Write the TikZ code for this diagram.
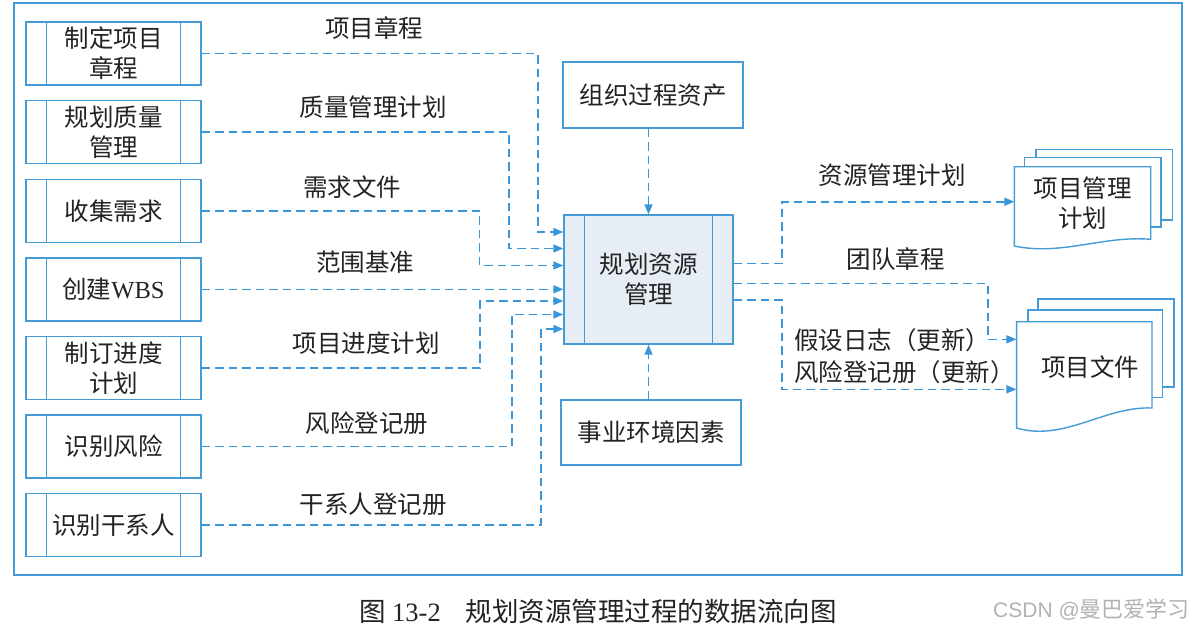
\documentclass[tikz,border=0pt]{standalone}
\usepackage{fontspec}
\setmainfont{Liberation Serif}
\newfontfamily\cjk{Noto Sans CJK SC}
\newfontfamily\wmfont{Liberation Sans}
\usetikzlibrary{arrows.meta,calc}
\definecolor{lineblue}{RGB}{58,150,218}
\definecolor{boxblue}{RGB}{68,155,214}
\definecolor{txt}{RGB}{35,35,35}
\definecolor{mfill}{RGB}{230,237,245}
\definecolor{wm}{RGB}{178,178,178}
\begin{document}
\begin{tikzpicture}[x=1pt,y=-1pt,
  every node/.style={text=txt, font=\cjk\fontsize{24.5}{30}\selectfont, inner sep=0pt},
  procbox/.style={draw=boxblue, line width=1.4pt, minimum width=175pt, minimum height=63pt, align=center},
  plainbox/.style={draw=boxblue, line width=1.4pt, minimum width=180pt, minimum height=66pt, align=center},
  flow/.style={draw=lineblue, line width=1.6pt, dash pattern=on 8.5pt off 5pt},
  arr/.style={-{Triangle[length=10pt,width=8pt,fill=lineblue]}},
  page/.style={draw=boxblue, line width=1.4pt, fill=white},
  frame/.style={minimum width=136pt, inner sep=0pt}
]
\useasboundingbox (0,0) rectangle (1194,630);
\fill[white] (0,0) rectangle (1194,630);
% outer frame
\draw[boxblue, line width=1.5pt] (14,3) rectangle (1182,575);

% left process boxes
\node[procbox] (b1) at (113.5,53.5) {制定项目\\章程};
\node[procbox] (b2) at (113.5,132.1) {规划质量\\管理};
\node[procbox] (b3) at (113.5,210.7) {收集需求};
\node[procbox] (b4) at (113.5,289.3) {创建{\rmfamily WBS}};
\node[procbox] (b5) at (113.5,367.9) {制订进度\\计划};
\node[procbox] (b6) at (113.5,446.5) {识别风险};
\node[procbox] (b7) at (113.5,525.1) {识别干系人};
\foreach \b in {b1,b2,b3,b4,b5,b6,b7}{
  \draw[boxblue, line width=1.4pt] ([xshift=21pt]\b.north west) -- ([xshift=21pt]\b.south west);
  \draw[boxblue, line width=1.4pt] ([xshift=-21pt]\b.north east) -- ([xshift=-21pt]\b.south east);
}

% central process
\node[procbox, fill=mfill, minimum width=169pt, minimum height=129pt] (m) at (648.5,279.5) {规划资源\\管理};
\draw[boxblue, line width=1.4pt] ([xshift=21pt]m.north west) -- ([xshift=21pt]m.south west);
\draw[boxblue, line width=1.4pt] ([xshift=-21pt]m.north east) -- ([xshift=-21pt]m.south east);

% top / bottom boxes
\node[plainbox] (org) at (653,95) {组织过程资产};
\node[plainbox, minimum height=65pt] (env) at (651,432.5) {事业环境因素};
\draw[flow,arr] (m.north |- org.south) -- (m.north);
\draw[flow,arr] (m.south |- env.north) -- (m.south);

% left connectors
\coordinate (j1) at (537.7,232);
\coordinate (j2) at (509,248.5);
\coordinate (j3) at (479.5,265.5);
\coordinate (j5) at (480,301);
\coordinate (j6) at (511.7,314.5);
\coordinate (j7) at (540.8,329);
\draw[flow,arr] (b1.east) -| (j1) -- (j1 -| m.west);
\draw[flow,arr] (b2.east) -| (j2) -- (j2 -| m.west);
\draw[flow,arr] (b3.east) -| (j3) -- (j3 -| m.west);
\draw[flow,arr] (b4.east) -- (b4.east -| m.west);
\draw[flow,arr] (b5.east) -| (j5) -- (j5 -| m.west);
\draw[flow,arr] (b6.east) -| (j6) -- (j6 -| m.west);
\draw[flow,arr] (b7.east) -| (j7) -- (j7 -| m.west);

% left labels
\node (l1) at (374,28) {项目章程};
\node (l2) at (373,107) {质量管理计划};
\node (l3) at (352,187) {需求文件};
\node (l4) at (365,262) {范围基准};
\node (l5) at (366,343) {项目进度计划};
\node (l6) at (367,423) {风险登记册};
\node (l7) at (373,504) {干系人登记册};

% documents: project management plan
\draw[page] (1036,149.3) rectangle (1172.7,220);
\draw[page] (1024.3,157.3) rectangle (1161,227);
\draw[page] (1014.3,166.7) -- (1150.7,166.7) -- (1150.7,239.3)
  .. controls (1103,235.3) and (1062,256) .. (1014.3,246) -- cycle;
\node[frame, minimum height=79pt] (d1) at (1082.5,206) {};
\node[align=center] (d1t) at (1082.5,203) {项目管理\\计划};

% documents: project documents
\draw[page] (1038,299) rectangle (1174,387);
\draw[page] (1028,310) rectangle (1162.6,397.7);
\draw[page] (1016.6,321.7) -- (1152,321.7) -- (1152,408)
  .. controls (1104.6,406) and (1064,442) .. (1016.6,428) -- cycle;
\node[frame, minimum width=135.4pt, minimum height=106pt] (d2) at (1084.3,374.8) {};
\node (d2t) at (1090,366.7) {项目文件};

% right connectors
\coordinate (p1) at (782,263.3);
\coordinate (p2) at (782,201.7);
\draw[flow,arr] (p1 -| m.east) -- (p1) -- (p2) -- (p2 -| d1.west);
\coordinate (q1) at (988,283.3);
\coordinate (q2) at (988,339.3);
\draw[flow,arr] (q1 -| m.east) -- (q1) -- (q2) -- (q2 -| d2.west);
\coordinate (s1) at (782,300);
\coordinate (s2) at (782,389.3);
\draw[flow,arr] (s1 -| m.east) -- (s1) -- (s2) -- (s2 -| d2.west);

% right labels
\node (r1) at (892,175) {资源管理计划};
\node (r2) at (895.5,259) {团队章程};
\node[anchor=west] (r3) at (794,340) {假设日志（更新）};
\node[anchor=west] (r4) at (794,371.7) {风险登记册（更新）};

% caption
\node[anchor=west, font=\cjk\fontsize{26.5}{30}\selectfont] (cap) at (359.5,611.5)
  {图\hspace{6pt}{\rmfamily 13-2}\hspace{25pt}规划资源管理过程的数据流向图};

% watermark
\node[anchor=west, text=wm, font=\wmfont\fontsize{21}{24}\selectfont] (wmk) at (993,610)
  {CSDN @{\cjk\fontsize{22}{24}\selectfont 曼巴爱学习}};
\end{tikzpicture}
\end{document}
